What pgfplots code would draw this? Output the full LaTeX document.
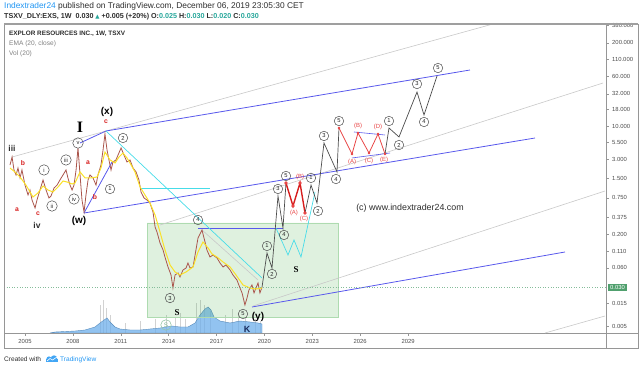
\documentclass[border=0pt]{standalone}
\usepackage{fontspec}
\setmainfont{Liberation Sans}
\newfontfamily\serifb{Liberation Serif}
\newfontfamily\dejavu{DejaVu Sans}
\usepackage{pgfplots}
\pgfplotsset{compat=1.18}
\definecolor{tvblue}{RGB}{33,150,243}
\definecolor{tvteal}{RGB}{38,166,154}
\definecolor{chanblue}{RGB}{88,88,236}
\definecolor{chancyan}{RGB}{70,220,232}
\definecolor{chgray}{RGB}{200,200,200}
\definecolor{wred}{RGB}{215,30,30}
\definecolor{lred}{RGB}{232,70,70}
\definecolor{emay}{RGB}{250,225,40}
\definecolor{pricec}{RGB}{170,85,75}
\definecolor{rectg}{RGB}{76,175,80}
\definecolor{volb}{RGB}{110,175,235}
\definecolor{pxg}{RGB}{80,160,110}
\definecolor{frame}{RGB}{150,150,150}
\definecolor{txt}{RGB}{45,45,45}
\definecolor{navy}{RGB}{25,45,95}
\tikzset{
 cn/.style={circle, draw=black!70, line width=0.5pt, minimum size=9.5bp, inner sep=0pt, font=\fontsize{5.8}{5.8}\selectfont, text=black!85},
 cr/.style={cn, minimum size=10.5bp},
 rl/.style={font=\fontsize{6.8}{6.8}\selectfont\bfseries, text=wred},
 pr/.style={font=\fontsize{6}{6}\selectfont, text=lred},
}
\begin{document}
\begin{tikzpicture}
\useasboundingbox (0,0) rectangle (640bp,369bp);
% volume overlay
\begin{axis}[at={(4bp,36bp)}, anchor=south west, scale only axis, width=602bp, height=309bp,
 xmin=2003.684, xmax=2041.404, ymin=0, ymax=309, hide axis]
\addplot[ycomb, gray!35, line width=0.5pt] coordinates {
(2009.699,28) (2009.887,33) (2010.075,25) (2010.326,18) (2011.266,10) (2012.206,12)
(2013.145,14) (2013.835,18) (2014.398,16) (2014.712,20) (2015.025,14) (2015.715,30)
(2015.965,33) (2016.216,28) (2016.591,22) (2017.531,18) (2017.970,24) (2018.346,20)
(2018.784,15) (2019.411,14) (2019.724,12)};
\addplot[draw=volb!80!black, fill=volb, fill opacity=0.75, line width=0.4pt] coordinates {
(2006.567,0) (2006.880,1) (2007.506,1.5) (2008.133,2) (2008.759,3) (2009.386,6)
(2009.699,10) (2009.950,13) (2010.138,15) (2010.326,11) (2010.639,6) (2010.952,4)
(2011.579,3) (2012.206,3) (2012.832,4) (2013.459,5) (2013.835,6) (2014.211,7)
(2014.712,6) (2015.213,6) (2015.652,10) (2015.965,18) (2016.278,24) (2016.466,26)
(2016.654,23) (2016.842,16) (2017.218,12) (2017.845,10) (2018.471,12) (2019.098,11)
(2019.599,10) (2019.850,9)} \closedcycle;
\end{axis}
% main price axis
\begin{axis}[at={(4bp,36bp)}, anchor=south west, scale only axis, width=602bp, height=309bp,
 xmin=2003.684, xmax=2041.404, ymode=log, ymin=0.00576, ymax=394.7,
 clip=false,
 axis line style={draw=frame, line width=0.6pt},
 xtick={2005,2008,2011,2014,2017,2020,2023,2026,2029},
 xticklabels={2005,2008,2011,2014,2017,2020,2023,2026,2029},
 ytick={0.0074,0.0168,0.06,0.11,0.2,0.375,0.75,1.5,3,5.5,10,18,32,60,110,200,380},
 yticklabels={0.005,0.015,0.060,0.110,0.200,0.375,0.750,1.500,3.000,5.500,10.000,18.000,32.000,60.000,110.000,200.000,380.000},
 xtick pos=bottom, ytick pos=right, yticklabel pos=right,
 tick align=outside, major tick length=2.5bp,
 tick style={draw=frame, line width=0.4pt},
 ticklabel style={font=\fontsize{5.9}{5.9}\selectfont, text=txt!85},
 yticklabel style={xshift=0.2bp},
 /pgf/number format/assume math mode=true,
]
% green box
\addplot[draw=rectg!45, fill=rectg, fill opacity=0.18, line width=0.6pt] coordinates {
(2012.644,0.3034) (2024.612,0.3034) (2024.612,0.01026) (2012.644,0.01026) (2012.644,0.3034)};
% gray channel lines
\addplot[chgray, line width=0.6pt] coordinates {(2004.185,3.27) (2034.32,394.7)};
\addplot[chgray, line width=0.6pt] coordinates {(2013.459,0.2823) (2041.216,47.1)};
\addplot[chgray, line width=0.6pt] coordinates {(2019.286,0.01524) (2041.34,0.961)};
\addplot[chgray, line width=0.6pt] coordinates {(2016.09,0.236) (2019.60,0.0389)};
\addplot[chgray, line width=0.6pt] coordinates {(2037.58,0.00576) (2041.34,0.01063)};
% blue lines
\addplot[chanblue, line width=0.8pt] coordinates {(2008.446,5.42) (2010.075,8.35) (2032.88,75.2)};
\addplot[chanblue, line width=0.8pt] coordinates {(2008.697,0.435) (2010.451,2.73)};
\addplot[chanblue, line width=0.8pt] coordinates {(2008.697,0.435) (2036.955,6.49)};
\addplot[chanblue, line width=0.8pt] coordinates {(2019.223,0.0147) (2038.835,0.1067)};
\addplot[chanblue, line width=1pt] coordinates {(2015.840,0.2444) (2021.165,0.2444)};
\addplot[chanblue, line width=0.6pt] coordinates {(2025.614,8.06) (2027.557,7.23)};
\addplot[chanblue, line width=0.6pt] coordinates {(2025.489,3.16) (2027.870,3.78)};
% cyan lines
\addplot[chancyan, line width=0.7pt] coordinates {(2010.075,8.35) (2019.850,0.0418)};
\addplot[chancyan, line width=0.8pt] coordinates {(2012.206,1.071) (2016.591,1.071)};
\addplot[chancyan, line width=0.7pt] coordinates {(2020.727,0.253) (2021.478,0.0958) (2021.854,0.1644) (2022.293,0.0891) (2023.170,0.927)};
% price
\addplot[pricec, line width=0.8pt] coordinates {
(2004.06,2.45) (2004.19,3.27) (2004.31,2.05) (2004.44,1.71) (2004.56,2.20) (2004.69,1.54)
(2004.81,2.05) (2005.00,1.19) (2005.19,0.832) (2005.31,0.997) (2005.44,0.695) (2005.63,0.521)
(2005.75,0.695) (2005.94,0.997) (2006.13,1.43) (2006.32,0.997) (2006.50,0.747) (2006.63,0.803)
(2006.82,1.071) (2007.01,1.19) (2007.19,1.43) (2007.38,1.71) (2007.57,2.05) (2007.69,1.54)
(2007.82,1.19) (2007.95,0.997) (2008.07,1.19) (2008.20,2.05) (2008.32,4.53) (2008.45,1.71)
(2008.57,0.695) (2008.70,0.451) (2008.82,0.832) (2008.95,1.43) (2009.07,1.71) (2009.26,1.54)
(2009.45,1.19) (2009.57,1.71) (2009.76,2.45) (2009.89,4.21) (2010.01,7.50) (2010.14,4.21)
(2010.26,2.94) (2010.39,2.05) (2010.51,2.73) (2010.70,2.94) (2010.83,3.52) (2011.02,4.53)
(2011.20,3.52) (2011.39,2.73) (2011.58,2.94) (2011.77,2.20) (2011.96,1.91) (2012.14,1.43)
(2012.27,0.927) (2012.46,0.747) (2012.64,0.695) (2012.83,0.624) (2013.02,0.451) (2013.15,0.263)
(2013.27,0.219) (2013.46,0.148) (2013.65,0.1147) (2013.77,0.0891) (2013.96,0.0622) (2014.15,0.0466)
(2014.27,0.0292) (2014.40,0.0466) (2014.59,0.0501) (2014.71,0.0434) (2014.90,0.0558) (2015.09,0.0599)
(2015.21,0.0718) (2015.34,0.0599) (2015.53,0.0622) (2015.71,0.1147) (2015.84,0.177) (2016.09,0.236)
(2016.28,0.153) (2016.40,0.1147) (2016.59,0.0891) (2016.78,0.0958) (2017.03,0.0860) (2017.22,0.0718)
(2017.41,0.0622) (2017.59,0.0668) (2017.85,0.0558) (2018.03,0.0466) (2018.28,0.0389) (2018.47,0.0292)
(2018.60,0.0244) (2018.78,0.0158) (2018.91,0.0203) (2019.03,0.0271) (2019.22,0.0325) (2019.35,0.0244)
(2019.47,0.0292) (2019.60,0.0349) (2019.72,0.0244) (2019.85,0.030)};
% EMA 20
\addplot[emay, line width=1pt] coordinates {
(2004.06,2.20) (2004.37,1.91) (2004.69,1.59) (2005.06,1.19) (2005.50,0.774) (2005.81,0.894)
(2006.13,1.151) (2006.44,0.997) (2006.75,0.927) (2007.07,1.110) (2007.38,1.378) (2007.63,1.33)
(2007.95,1.237) (2008.13,1.28) (2008.45,1.91) (2008.76,1.54) (2009.14,1.54) (2009.51,1.59)
(2009.76,2.20) (2010.01,3.92) (2010.33,2.94) (2010.64,2.64) (2010.89,3.27) (2011.14,3.78)
(2011.39,3.16) (2011.58,2.64) (2011.89,1.91) (2012.21,1.110) (2012.52,0.832) (2012.83,0.624)
(2013.15,0.405) (2013.46,0.219) (2013.77,0.1147) (2014.09,0.0668) (2014.40,0.0519) (2014.71,0.0466)
(2015.09,0.0519) (2015.53,0.0622) (2015.84,0.1067) (2016.15,0.153) (2016.47,0.1233) (2016.72,0.0993)
(2017.03,0.0891) (2017.41,0.0744) (2017.85,0.0622) (2018.22,0.0466) (2018.66,0.0325) (2019.10,0.0292)
(2019.47,0.0281) (2019.85,0.0292)};
% last price line
\addplot[pxg!70, dotted, line width=0.6pt] coordinates {(2003.684,0.030) (2041.404,0.030)};
% projected waves
\addplot[black!70, line width=0.7pt] coordinates {(2019.850,0.030) (2020.163,0.1029) (2020.476,0.0599) (2020.852,0.803) (2021.165,0.253) (2021.353,1.28)};
\addplot[wred, line width=1.4pt, mark=*, mark size=0.9pt, mark options={fill=lred, draw=lred}] coordinates {(2021.353,1.28) (2021.792,0.560) (2022.231,1.28) (2022.544,0.435)};
\addplot[black!70, line width=0.7pt] coordinates {(2022.544,0.435) (2022.920,1.19) (2023.296,0.624) (2023.734,5.42) (2024.549,1.91) (2024.674,9.30)};
\addplot[lred, line width=0.8pt, mark=*, mark size=0.8pt] coordinates {(2024.674,9.30) (2025.489,3.65) (2025.865,7.77) (2026.554,3.78) (2027.118,7.50) (2027.557,3.65)};
\addplot[black!70, line width=0.7pt] coordinates {(2027.557,3.65) (2027.807,9.30) (2028.434,6.73) (2029.562,34.0) (2030.001,14.86) (2030.816,60.6)};
% historical wave labels
\node[font=\fontsize{8.5}{8.5}\selectfont\bfseries, text=txt] at (axis cs:2004.185,4.53) {iii};
\node[rl] at (axis cs:2004.875,2.64) {b};
\node[rl] at (axis cs:2004.499,0.4846) {a};
\node[rl] at (axis cs:2005.815,0.420) {c};
\node[font=\fontsize{8.5}{8.5}\selectfont\bfseries, text=txt] at (axis cs:2005.752,0.2823) {iv};
\node[cr] at (axis cs:2006.190,2.05) {i};
\node[cr] at (axis cs:2006.692,0.560) {ii};
\node[cr] at (axis cs:2007.569,2.94) {iii};
\node[cr] at (axis cs:2008.070,0.720) {iv};
\node[cr] at (axis cs:2008.321,5.42) {v};
\node[font=\fontsize{16}{16}\selectfont\serifb\bfseries, text=black] at (axis cs:2008.446,9.65) {I};
\node[rl] at (axis cs:2008.947,2.64) {a};
\node[font=\fontsize{10}{10}\selectfont\bfseries, text=black] at (axis cs:2008.384,0.326) {(w)};
\node[rl] at (axis cs:2009.386,0.774) {b};
\node[rl] at (axis cs:2010.075,11.55) {c};
\node[font=\fontsize{10}{10}\selectfont\bfseries, text=black] at (axis cs:2010.138,16.56) {(x)};
\node[cn] at (axis cs:2011.14,6.49) {2};
\node[cn] at (axis cs:2010.326,1.033) {1};
\node[cn] at (axis cs:2015.840,0.338) {4};
\node[cn] at (axis cs:2014.085,0.0203) {3};
\node[font=\fontsize{9}{9}\selectfont\serifb\bfseries, text=black] at (axis cs:2014.524,0.01185) {S};
\node[cn] at (axis cs:2018.659,0.01143) {5};
\node[font=\fontsize{10}{10}\selectfont\bfseries, text=black] at (axis cs:2019.599,0.01026) {(y)};
\node[font=\fontsize{9}{9}\selectfont\bfseries, text=navy] at (axis cs:2018.910,0.00666) {K};
\node[circle, draw=pxg!60, line width=0.6pt, minimum size=10.5bp, inner sep=0pt, font=\fontsize{6.5}{6.5}\selectfont, text=pxg!70] at (axis cs:2013.835,0.00769) {S};
\node[font=\fontsize{9}{9}\selectfont\serifb\bfseries, text=black] at (axis cs:2021.980,0.0558) {S};
\node[font=\fontsize{8.9}{8.9}\selectfont, text=txt] at (axis cs:2029.123,0.521) {(c) www.indextrader24.com};
% projected labels
\node[cn] at (axis cs:2020.163,0.1325) {1};
\node[cn] at (axis cs:2020.476,0.0483) {2};
\node[cn] at (axis cs:2020.852,1.033) {3};
\node[cn] at (axis cs:2021.228,0.197) {4};
\node[cn] at (axis cs:2021.353,1.651) {5};
\node[pr] at (axis cs:2021.854,0.435) {(A)};
\node[pr] at (axis cs:2022.231,1.59) {(B)};
\node[pr] at (axis cs:2022.481,0.350) {(C)};
\node[cn] at (axis cs:2022.920,1.54) {1};
\node[cn] at (axis cs:2023.358,0.4675) {2};
\node[cn] at (axis cs:2023.734,6.98) {3};
\node[cn] at (axis cs:2024.486,1.48) {4};
\node[cn] at (axis cs:2024.674,11.97) {5};
\node[pr] at (axis cs:2025.489,2.73) {(A)};
\node[pr] at (axis cs:2025.865,10.0) {(B)};
\node[pr] at (axis cs:2026.554,2.835) {(C)};
\node[pr] at (axis cs:2027.118,9.65) {(D)};
\node[pr] at (axis cs:2027.494,2.94) {(E)};
\node[cn] at (axis cs:2027.807,11.97) {1};
\node[cn] at (axis cs:2028.434,5.04) {2};
\node[cn] at (axis cs:2029.562,45.4) {3};
\node[cn] at (axis cs:2030.001,11.55) {4};
\node[cn] at (axis cs:2030.878,80.8) {5};
% last price tag
\node[fill=pxg, text=white, font=\fontsize{5.9}{5.9}\selectfont, inner xsep=2.5bp, inner ysep=1.4bp, anchor=west, xshift=1.5bp] at (axis cs:2041.404,0.030) {0.030};
\end{axis}
% frame
\draw[frame, line width=0.6pt] (4bp,21bp) rectangle (638bp,345bp);
\draw[frame, line width=0.6pt] (606bp,36bp) -- (638bp,36bp);
\draw[frame, line width=0.6pt] (606bp,21bp) -- (606bp,36bp);
\draw[gray!75, line width=1.4pt] (4bp,345bp) -- (638bp,345bp);
% header
\node[anchor=base west, inner sep=0pt, font=\fontsize{8.4}{9}\selectfont] at (4bp,360bp) {\textcolor{tvblue}{Indextrader24} \textcolor{txt}{published on TradingView.com, December 06, 2019 23:05:30 CET}};
\node[anchor=base west, inner sep=0pt, font=\fontsize{7.2}{8}\selectfont\bfseries, text=txt] at (4bp,350bp) {TSXV\_DLY:EXS, 1W\ \ 0.030 \textcolor{tvteal}{{\dejavu\fontsize{5.5}{5.5}\selectfont ▲}} +0.005 (+20\%) O:\textcolor{tvteal}{0.025} H:\textcolor{tvteal}{0.030} L:\textcolor{tvteal}{0.020} C:\textcolor{tvteal}{0.030}};
% legend
\node[anchor=base west, inner sep=0pt, font=\fontsize{6.4}{7}\selectfont\bfseries, text=txt] at (9bp,333bp) {EXPLOR RESOURCES INC., 1W, TSXV};
\node[anchor=base west, inner sep=0pt, font=\fontsize{6.6}{7}\selectfont, text=gray] at (9bp,323bp) {EMA (20, close)};
\node[anchor=base west, inner sep=0pt, font=\fontsize{6.6}{7}\selectfont, text=gray] at (9bp,313.5bp) {Vol (20)};
% footer
\node[anchor=base west, inner sep=0pt, font=\fontsize{6.6}{7}\selectfont, text=txt] at (4bp,7.5bp) {Created with};
\fill[tvblue!85] (46bp,7bp) rectangle (58bp,9.5bp);
\fill[tvblue!85] (49bp,10bp) circle (2.6bp);
\fill[tvblue!85] (54bp,10.5bp) circle (3.2bp);
\draw[white, line width=0.6pt] (47bp,8bp) -- (50bp,10.5bp) -- (52.5bp,9bp) -- (57bp,12bp);
\node[anchor=base west, inner sep=0pt, font=\fontsize{6.6}{7}\selectfont, text=tvblue] at (60bp,7.5bp) {TradingView};
\end{tikzpicture}
\end{document}
